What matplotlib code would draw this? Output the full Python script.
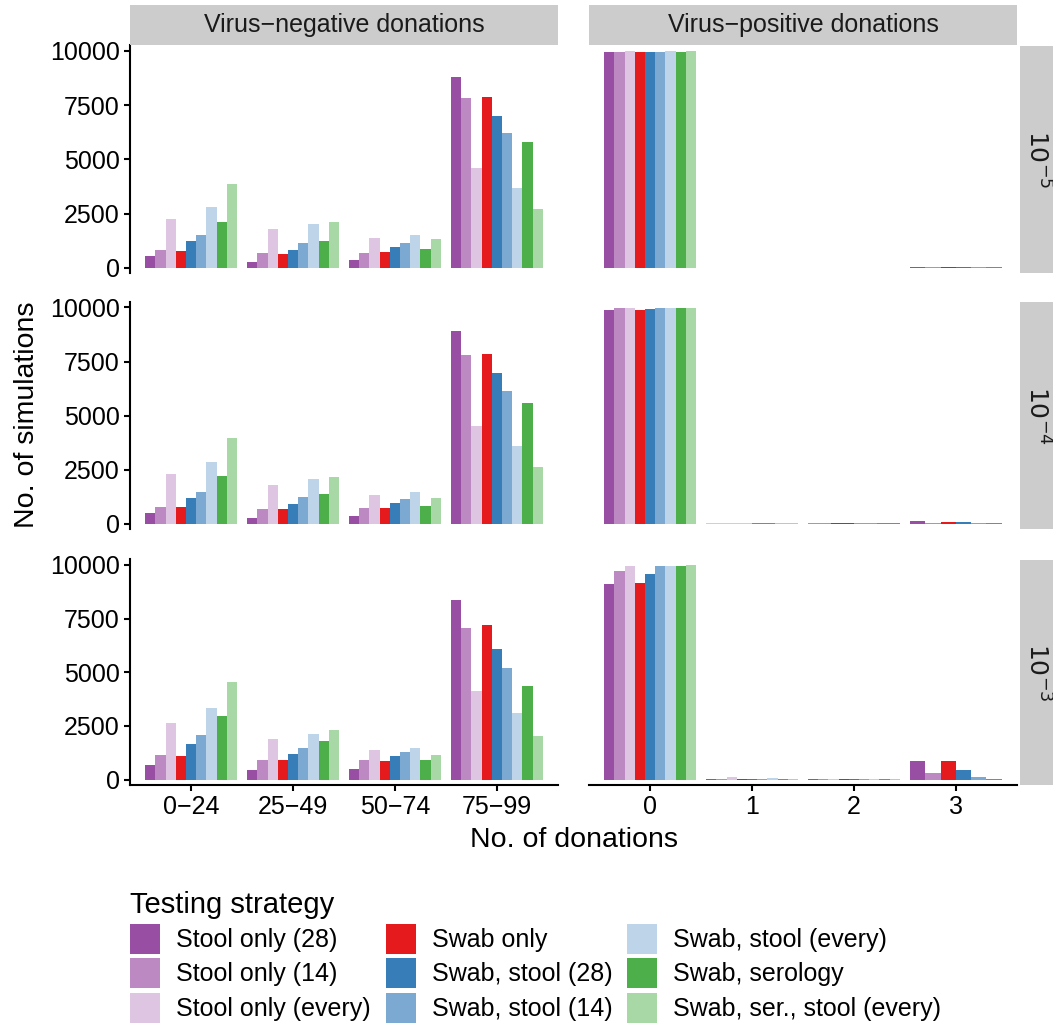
import matplotlib.pyplot as plt
from matplotlib.patches import Patch

plt.rcParams['font.family'] = ['Liberation Sans', 'DejaVu Sans']

# testing strategies and their colours
strategies = ['Stool only (28)', 'Stool only (14)', 'Stool only (every)',
              'Swab only', 'Swab, stool (28)', 'Swab, stool (14)',
              'Swab, stool (every)', 'Swab, serology', 'Swab, ser., stool (every)']
colors = ['#984EA3', '#BC89C2', '#DEC6E2', '#E41A1C', '#377EB8',
          '#7BA9D1', '#BDD4E9', '#4DAF4A', '#A8D8A6']

neg_cats = ['0\u221224', '25\u221249', '50\u221274', '75\u221299']
pos_cats = ['0', '1', '2', '3']
rates = ['$10^{-5}$', '$10^{-4}$', '$10^{-3}$']

# virus-negative donations, one list of 9 strategies per category
neg_1e5 = [[552, 829, 2256, 783, 1243, 1519, 2808, 2118, 3867],
           [276, 690, 1796, 645, 829, 1151, 2026, 1243, 2118],
           [368, 690, 1381, 737, 967, 1151, 1519, 875, 1335],
           [8795, 7829, 4605, 7875, 7000, 6217, 3683, 5802, 2716]]
neg_1e4 = [[509, 787, 2315, 787, 1204, 1481, 2870, 2222, 3981],
           [278, 694, 1805, 694, 926, 1250, 2083, 1389, 2176],
           [370, 741, 1342, 741, 972, 1157, 1481, 833, 1204],
           [8888, 7823, 4536, 7869, 6990, 6157, 3611, 5601, 2639]]
neg_1e3 = [[684, 1148, 2638, 1102, 1660, 2080, 3337, 2964, 4548],
           [451, 917, 1894, 917, 1196, 1475, 2127, 1801, 2313],
           [498, 917, 1382, 870, 1102, 1289, 1475, 917, 1148],
           [8365, 7062, 4129, 7201, 6084, 5199, 3105, 4362, 2034]]

# virus-positive donations (None = no simulation in that bin)
pos_1e5 = [[9960, 9960, 10000, 9960, 9960, 9960, 10000, 9960, 10000],
           [None] * 9,
           [None] * 9,
           [40, 40, None, 40, 40, 40, None, 40, None]]
pos_1e4 = [[9900, 9950, 9970, 9880, 9910, 9960, 9975, 9955, 9990],
           [None, None, 30, None, None, None, 30, 30, 30],
           [None, 30, None, 30, None, 30, None, 30, None],
           [140, 45, None, 90, 90, 45, None, 45, None]]
pos_1e3 = [[9130, 9716, 9949, 9157, 9576, 9949, 9949, 9949, 10000],
           [30, 30, 100, 40, 30, 30, 80, 40, 40],
           [30, 30, 40, 40, 30, 30, 30, 40, 30],
           [860, 312, None, 860, 465, 140, None, 45, None]]

neg_rows = [neg_1e5, neg_1e4, neg_1e3]
pos_rows = [pos_1e5, pos_1e4, pos_1e3]

W, H = 1053, 1026
fig = plt.figure(figsize=(W / 100, H / 100), dpi=100)


def box(x0, x1, y0, y1):
    return [x0 / W, 1 - y1 / H, (x1 - x0) / W, (y1 - y0) / H]


def draw_groups(ax, groups):
    # dodge bars like ggplot: width shared by the strategies present
    for gi, vals in enumerate(groups):
        present = [(si, v) for si, v in enumerate(vals) if v is not None]
        n = len(present)
        if n == 0:
            continue
        w = 0.9 / n
        for k, (si, v) in enumerate(present):
            ax.bar(gi + (k - (n - 1) / 2) * w, v, width=w,
                   color=colors[si], linewidth=0)


panel_x = [(130, 558), (589, 1017)]
row_y = [(45.5, 273.4), (302, 529.4), (559.5, 785)]
col_data = [neg_rows, pos_rows]
col_cats = [neg_cats, pos_cats]

for r, (y0, y1) in enumerate(row_y):
    for c, (x0, x1) in enumerate(panel_x):
        ax = fig.add_axes(box(x0, x1, y0, y1))
        draw_groups(ax, col_data[c][r])
        ax.set_xlim(-0.6, 3.6)
        ax.set_ylim(-250, 10250)
        for s in ['top', 'right']:
            ax.spines[s].set_visible(False)
        for s in ['left', 'bottom']:
            ax.spines[s].set_linewidth(1.5)
        ax.tick_params(width=1.5, length=4.5, labelsize=18, colors='black', pad=3)
        ax.set_xticks(range(4))
        ax.set_yticks([0, 2500, 5000, 7500, 10000])
        if r == 2:
            ax.set_xticklabels(col_cats[c])
        else:
            ax.spines['bottom'].set_visible(False)
            ax.tick_params(axis='x', bottom=False, labelbottom=False)
        if c == 1:
            ax.spines['left'].set_visible(False)
            ax.tick_params(axis='y', left=False, labelleft=False)

# column strips
for label, (x0, x1) in zip(['Virus\u2212negative donations', 'Virus\u2212positive donations'], panel_x):
    sa = fig.add_axes(box(x0, x1, 5, 45))
    sa.set_facecolor('#CCCCCC')
    sa.set_xticks([])
    sa.set_yticks([])
    for s in sa.spines.values():
        s.set_visible(False)
    sa.text(0.5, 0.5, label, ha='center', va='center', fontsize=18, color='#1A1A1A')

# row strips
for label, (y0, y1) in zip(rates, row_y):
    sa = fig.add_axes(box(1020, 1053, y0, y1))
    sa.set_facecolor('#CCCCCC')
    sa.set_xticks([])
    sa.set_yticks([])
    for s in sa.spines.values():
        s.set_visible(False)
    sa.text(0.5, 0.5, label, ha='center', va='center', fontsize=18,
            color='#1A1A1A', rotation=-90)

fig.text(27 / W, 1 - 415 / H, 'No. of simulations', rotation=90,
         ha='center', va='center', fontsize=20.5)
fig.text(574 / W, 1 - 840 / H, 'No. of donations', ha='center', va='center', fontsize=20.5)

handles = [Patch(facecolor=col, edgecolor='none') for col in colors]
fig.legend(handles, strategies, ncol=3, loc='upper left',
           bbox_to_anchor=(130 / W, 1 - 891 / H), frameon=False,
           title='Testing strategy', alignment='left', fontsize=18,
           title_fontsize=21, handlelength=1.2, handleheight=1.47,
           handletextpad=0.64, columnspacing=0.6, labelspacing=0.18,
           borderpad=0, borderaxespad=0)

fig.savefig('out.png', dpi=100)
